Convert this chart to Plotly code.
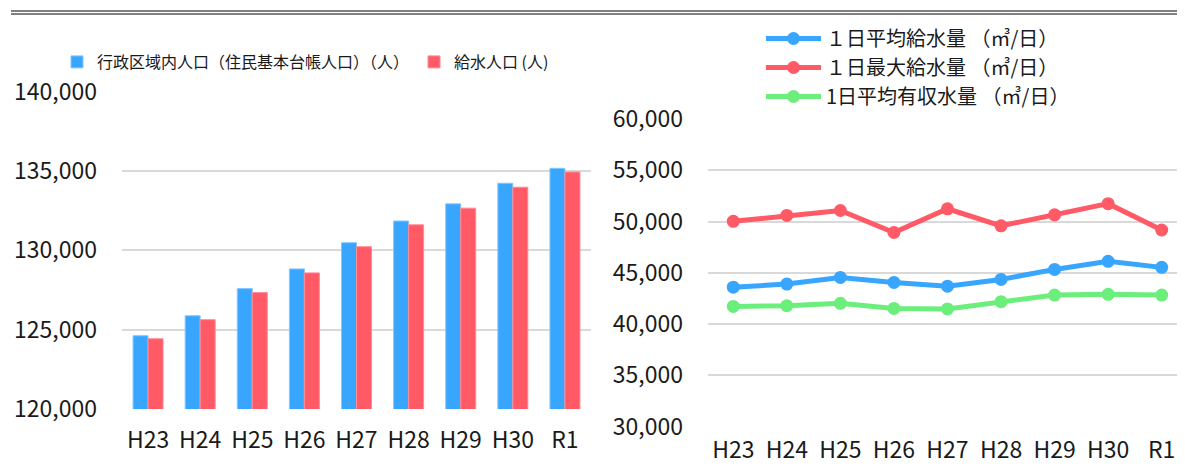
import plotly.graph_objects as go

categories = ["H23", "H24", "H25", "H26", "H27", "H28", "H29", "H30", "R1"]

# Left chart: population
admin_pop = [124620, 125880, 127590, 128830, 130480, 131850, 132930, 134230, 135170]
supply_pop = [124430, 125630, 127340, 128580, 130230, 131610, 132660, 133980, 134940]
admin_name = "行政区域内人口（住民基本台帳人口）（人）"
supply_name = "給水人口 (人)"

# Right chart: water volumes
avg_supply = [43600, 43900, 44550, 44060, 43700, 44350, 45330, 46120, 45530]
max_supply = [50020, 50590, 51070, 48930, 51240, 49580, 50650, 51740, 49170]
avg_revenue = [41720, 41790, 42020, 41530, 41480, 42190, 42830, 42900, 42830]
avg_supply_name = "１日平均給水量 （㎥/日）"
max_supply_name = "１日最大給水量 （㎥/日）"
avg_revenue_name = "1日平均有収水量 （㎥/日）"

left_ticks = [120000, 125000, 130000, 135000, 140000]
right_ticks = [30000, 35000, 40000, 45000, 50000, 55000, 60000]

BLUE = "rgb(56,166,255)"
RED = "rgb(255,90,102)"
GREEN = "rgb(108,238,124)"
FONT = "Noto Sans CJK JP"
OFF = 8  # page body margin
W, H = 1185 - OFF, 466 - OFF

fig = go.Figure()
fig.add_trace(go.Bar(x=categories, y=admin_pop, name=admin_name,
                     marker=dict(color=BLUE, line=dict(color="rgb(130,200,255)", width=1)),
                     xaxis="x", yaxis="y", legend="legend"))
fig.add_trace(go.Bar(x=categories, y=supply_pop, name=supply_name,
                     marker=dict(color=RED, line=dict(color="rgb(255,140,150)", width=1)),
                     xaxis="x", yaxis="y", legend="legend"))

for vals, name, col in [(avg_supply, avg_supply_name, BLUE),
                        (max_supply, max_supply_name, RED),
                        (avg_revenue, avg_revenue_name, GREEN)]:
    fig.add_trace(go.Scatter(x=categories, y=vals, name=name, mode="lines+markers",
                             line=dict(color=col, width=5),
                             marker=dict(color=col, size=13),
                             xaxis="x2", yaxis="y2", legend="legend2"))

tickfont = dict(family=FONT, size=23, color="#1a1a1a")
grid = dict(showgrid=True, gridcolor="#d9d9d9", gridwidth=2)

def px_x(p):
    return (p - OFF) / W

def px_y(p):
    return 1 - (p - OFF) / H

fig.update_layout(
    width=W, height=H,
    margin=dict(l=0, r=0, t=0, b=0, pad=0, autoexpand=False),
    paper_bgcolor="white", plot_bgcolor="white",
    font=dict(family=FONT, color="#1a1a1a"),
    barmode="group", bargap=0.424, bargroupgap=0,
    xaxis=dict(domain=[px_x(122), px_x(591)], anchor="y", tickfont=tickfont, automargin=False,
               showline=False, ticks="", ticklabelstandoff=15, range=[-0.5, 8.5]),
    yaxis=dict(domain=[px_y(409), px_y(91.7)], anchor="x", range=[120000, 140000], automargin=False,
               tickvals=left_ticks, tickformat=",", tickfont=tickfont,
               ticks="", ticklabelstandoff=24, zeroline=False, **grid),
    xaxis2=dict(domain=[px_x(708), 1.0], anchor="y2", tickfont=tickfont, automargin=False,
                showline=False, ticks="", ticklabelstandoff=7, range=[-0.472, 8.435]),
    yaxis2=dict(domain=[px_y(426.7), px_y(118.9)], anchor="x2", range=[30000, 60000], automargin=False,
                tickvals=right_ticks, tickformat=",", tickfont=tickfont,
                ticks="", ticklabelstandoff=24, zeroline=False, **grid),
    legend=dict(orientation="h", x=px_x(57), y=px_y(45), xanchor="left", yanchor="top",
                font=dict(family=FONT, size=16, color="#1a1a1a"),
                itemwidth=30, bgcolor="rgba(0,0,0,0)", traceorder="normal"),
    legend2=dict(orientation="v", x=px_x(761), y=px_y(19), xanchor="left", yanchor="top",
                 font=dict(family=FONT, size=20, color="#1a1a1a"),
                 itemwidth=55, bgcolor="rgba(0,0,0,0)", tracegroupgap=0),
    shapes=[
        dict(type="line", xref="paper", yref="paper", x0=px_x(11), x1=1.0,
             y0=px_y(11), y1=px_y(11), line=dict(color="#808080", width=2)),
        dict(type="line", xref="paper", yref="paper", x0=px_x(11), x1=1.0,
             y0=px_y(14), y1=px_y(14), line=dict(color="#808080", width=2)),
    ],
)

fig.write_html("out.html")
